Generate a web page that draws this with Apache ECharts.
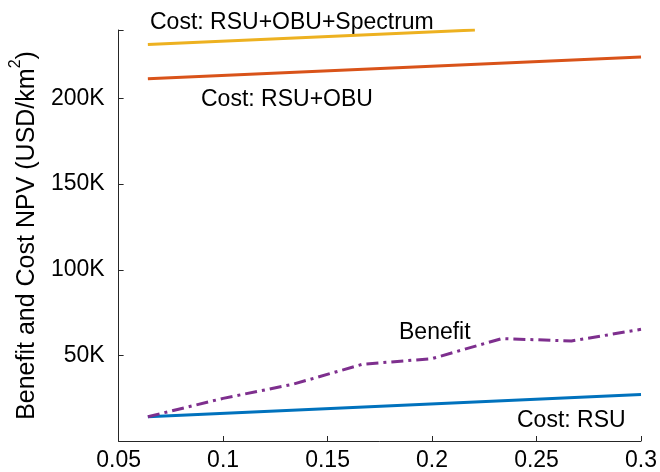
<!DOCTYPE html>
<html>
<head>
<meta charset="utf-8">
<script src="https://cdn.jsdelivr.net/npm/echarts@6/dist/echarts.min.js"></script>
<style>
html,body{margin:0;padding:0;background:#fff;}
#c{width:660px;height:472px;}
</style>
</head>
<body>
<div id="c"></div>
<script>
// ---- data ----
var benefitX = [0.064, 0.1, 0.1333, 0.1667, 0.2, 0.2333, 0.2667, 0.3];
var benefitY = [14200, 24900, 33100, 44800, 48100, 59800, 58400, 65200];
var costX = [0.064, 0.3];
var costRSU = [14200, 27100];
var costRSUOBU = [211500, 224300];
var spectrumX = [0.064, 0.2205];           // visible part (runs off the top of the axes)
var costRSUOBUSpectrum = [231500, 240000];
var xTickLabels = ['0.05', '0.1', '0.15', '0.2', '0.25', '0.3'];
var yTickLabels = ['', '50K', '100K', '150K', '200K'];
var annotations = ['Cost: RSU+OBU+Spectrum', 'Cost: RSU+OBU', 'Benefit', 'Cost: RSU'];

function pairs(xs, ys) { return xs.map(function (x, i) { return [x, ys[i]]; }); }

var FONT = 'Liberation Sans';
var TXT = '#000';
var AX = '#262626';

var chart = echarts.init(document.getElementById('c'), null, { renderer: 'canvas' });
chart.setOption({
  animation: false,
  backgroundColor: '#fff',
  grid: { left: 117, right: 18, top: 30, bottom: 30 },
  xAxis: {
    type: 'value', min: 0.05, max: 0.3, interval: 0.05,
    axisLine: { show: true, lineStyle: { color: AX, width: 1 } },
    axisTick: { show: true, inside: true, length: 5, lineStyle: { color: AX } },
    splitLine: { show: false },
    axisLabel: {
      color: TXT, fontFamily: FONT, fontSize: 23, margin: 8,
      formatter: function (v) { return xTickLabels[Math.round((v - 0.05) / 0.05)]; }
    }
  },
  yAxis: {
    type: 'value', min: 0, max: 240000, interval: 50000,
    name: '{a|Benefit and Cost NPV (USD/km}{s|2}{a|)}',
    nameLocation: 'middle', nameGap: 74, nameRotate: 90,
    nameTextStyle: {
      color: TXT, fontFamily: FONT, fontSize: 25,
      rich: {
        a: { fontFamily: FONT, fontSize: 25, color: TXT, lineHeight: 32, verticalAlign: 'bottom' },
        s: { fontFamily: FONT, fontSize: 16, color: TXT, lineHeight: 32, verticalAlign: 'top' }
      }
    },
    axisLine: { show: true, lineStyle: { color: AX, width: 1 } },
    axisTick: { show: true, inside: true, length: 5, lineStyle: { color: AX } },
    splitLine: { show: false },
    axisLabel: {
      color: TXT, fontFamily: FONT, fontSize: 23, margin: 14,
      formatter: function (v) { return yTickLabels[Math.round(v / 50000)] || ''; }
    }
  },
  series: [
    { type: 'line', data: pairs(spectrumX, costRSUOBUSpectrum), showSymbol: false, symbol: 'none', clip: true,
      lineStyle: { color: '#EDB120', width: 3 } },
    { type: 'line', data: pairs(costX, costRSUOBU), showSymbol: false, symbol: 'none', clip: true,
      lineStyle: { color: '#D95319', width: 3 } },
    { type: 'line', data: pairs(costX, costRSU), showSymbol: false, symbol: 'none', clip: true,
      lineStyle: { color: '#0072BD', width: 3 } },
    { type: 'line', data: pairs(benefitX, benefitY), showSymbol: false, symbol: 'none', clip: true,
      lineStyle: { color: '#7E2F8E', width: 3, type: [12, 5, 3, 5] } }
  ],
  graphic: [
    { type: 'text', x: 150, y: 23, style: { text: annotations[0], font: '23px "Liberation Sans"', fill: TXT, textVerticalAlign: 'middle', verticalAlign: 'middle' } },
    { type: 'text', x: 201, y: 100, style: { text: annotations[1], font: '23px "Liberation Sans"', fill: TXT, textVerticalAlign: 'middle', verticalAlign: 'middle' } },
    { type: 'text', x: 399, y: 333, style: { text: annotations[2], font: '23px "Liberation Sans"', fill: TXT, textVerticalAlign: 'middle', verticalAlign: 'middle' } },
    { type: 'text', x: 517, y: 421, style: { text: annotations[3], font: '23px "Liberation Sans"', fill: TXT, textVerticalAlign: 'middle', verticalAlign: 'middle' } }
  ]
});
</script>
</body>
</html>
